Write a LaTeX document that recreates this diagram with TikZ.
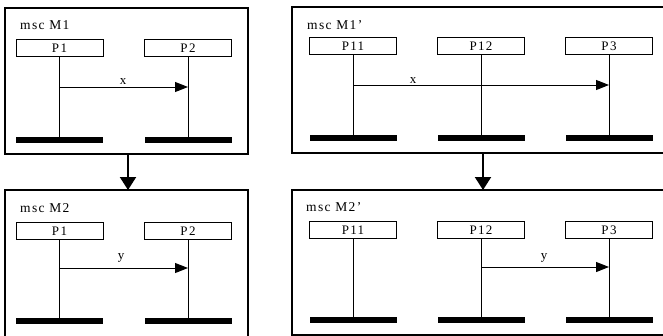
\documentclass[tikz,border=0pt]{standalone}
\usepackage{fontspec}
\setmainfont{Liberation Serif}
\newfontfamily\spaced[LetterSpace=10]{Liberation Serif}
\usetikzlibrary{arrows.meta}
\tikzset{
  frame/.style={draw, line width=1.8pt, anchor=north west, inner sep=0pt, outer sep=0pt},
  inst/.style={draw, line width=0.9pt, minimum width=87pt, minimum height=17pt, inner sep=0pt, outer sep=0pt, font=\spaced\fontsize{13}{13}\selectfont},
  endbar/.style={fill=black, minimum width=87pt, minimum height=6pt, inner sep=0pt, outer sep=0pt},
  life/.style={line width=1pt},
  msg/.style={line width=1pt, -{Triangle[length=13pt,width=10pt]}},
  conn/.style={line width=2pt, -{Triangle[length=13pt,width=16pt]}},
  title/.style={anchor=base west, inner sep=0pt, font=\spaced\fontsize{13.5}{13.5}\selectfont},
  lbl/.style={anchor=base, inner sep=0pt, font=\fontsize{13}{13}\selectfont},
}
\begin{document}
\begin{tikzpicture}[x=1pt,y=-1pt]
\useasboundingbox (0,0) rectangle (663,335);
\clip (0,0) rectangle (663,335);
% frames
\node[frame, minimum width=243pt, minimum height=146pt] (M1) at (5,8) {};
\node[frame, minimum width=243pt, minimum height=150pt] (M2) at (5,190) {};
\node[frame, minimum width=374pt, minimum height=146pt] (M1p) at (292,7) {};
\node[frame, minimum width=374pt, minimum height=145pt] (M2p) at (292,190) {};
\node[title] (t1) at (20,29) {msc M1};
\node[title] (t2) at (20,212) {msc M2};
\node[title] (t1p) at (307,29) {msc M1’};
\node[title] (t2p) at (306,211) {msc M2’};
% M1
\node[inst] (a1) at (59.5,48) {P1};
\node[inst] (a2) at (188,48) {P2};
\node[endbar] (ab1) at (59.5,140) {};
\node[endbar] (ab2) at (188,140) {};
\draw[life] (a1.south) -- (ab1.north);
\draw[life] (a2.south) -- (ab2.north);
\draw[msg] (a1 |- 0,87) -- (a2 |- 0,87);
\node[lbl] (xa) at (123,84) {x};
% M2
\node[inst] (b1) at (59.5,231) {P1};
\node[inst] (b2) at (188,231) {P2};
\node[endbar] (bb1) at (59.5,321) {};
\node[endbar] (bb2) at (188,321) {};
\draw[life] (b1.south) -- (bb1.north);
\draw[life] (b2.south) -- (bb2.north);
\draw[msg] (b1 |- 0,268) -- (b2 |- 0,268);
\node[lbl] (ya) at (121,259) {y};
% M1'
\node[inst] (c1) at (353,46) {P11};
\node[inst] (c2) at (481,46) {P12};
\node[inst] (c3) at (609,46) {P3};
\node[endbar] (cb1) at (353,138) {};
\node[endbar] (cb2) at (481,138) {};
\node[endbar] (cb3) at (609,138) {};
\draw[life] (c1.south) -- (cb1.north);
\draw[life] (c2.south) -- (cb2.north);
\draw[life] (c3.south) -- (cb3.north);
\draw[msg] (c1 |- 0,85) -- (c3 |- 0,85);
\node[lbl] (xb) at (413,83) {x};
% M2'
\node[inst] (d1) at (353,230) {P11};
\node[inst] (d2) at (481,230) {P12};
\node[inst] (d3) at (609,230) {P3};
\node[endbar] (db1) at (353,320) {};
\node[endbar] (db2) at (481,320) {};
\node[endbar] (db3) at (609,320) {};
\draw[life] (d1.south) -- (db1.north);
\draw[life] (d2.south) -- (db2.north);
\draw[life] (d3.south) -- (db3.north);
\draw[msg] (d2 |- 0,267) -- (d3 |- 0,267);
\node[lbl] (yb) at (544,259) {y};
% connectors
\draw[conn] ([xshift=1.5pt]M1.south) -- ([xshift=1.5pt]M2.north);
\draw[conn] ([xshift=4pt]M1p.south) -- ([xshift=4pt]M2p.north);
\end{tikzpicture}
\end{document}
